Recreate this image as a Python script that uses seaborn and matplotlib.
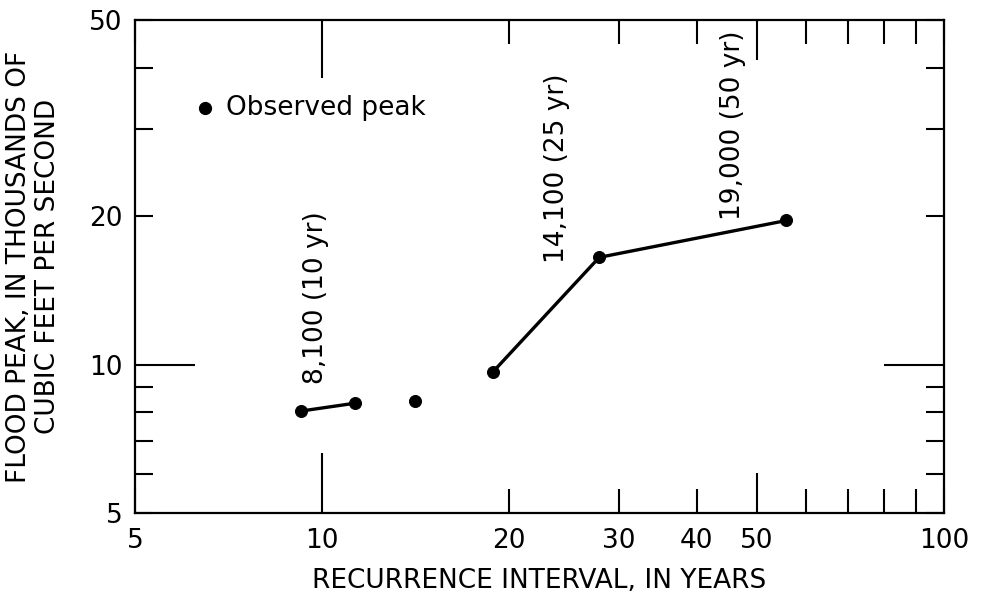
import numpy as np
import pandas as pd
import matplotlib
matplotlib.use('Agg')
import matplotlib.pyplot as plt
import seaborn as sns
from matplotlib.ticker import FixedLocator, NullFormatter

# Observed flood peaks
interval = [9.25, 11.3, 14.1, 18.8, 27.9, 55.8]
peak = [8.05, 8.35, 8.45, 9.65, 16.5, 19.6]
segment = [1, 1, 2, 3, 3, 3]

# Rotated annotations
note_text = ['8,100 (10 yr)', '14,100 (25 yr)', '19,000 (50 yr)']
note_x = [9.78, 23.9, 45.7]
note_y = [13.7, 25.0, 30.6]

# Axis ticks
x_ticks = [5, 10, 20, 30, 40, 50, 100]
x_tick_labels = ['5', '10', '20', '30', '40', '50', '100']
x_minor = [60, 70, 80, 90]
y_ticks = [5, 10, 20, 50]
y_tick_labels = ['5', '10', '20', '50']
y_minor = [6, 7, 8, 9, 30, 40]

sns.set_style('ticks')
plt.rcParams['font.family'] = ['DejaVu Sans']
plt.rcParams['text.color'] = 'black'
plt.rcParams['axes.labelcolor'] = 'black'
FS = 19

df = pd.DataFrame({'interval': interval, 'peak': peak, 'segment': segment})

fig = plt.figure(figsize=(9.83, 6.0), dpi=100)
ax = fig.add_axes([0.1373, 0.145, 0.823, 0.8217])

sns.lineplot(data=df, x='interval', y='peak', units='segment', estimator=None,
             color='black', lw=2.4, ax=ax, legend=False)
sns.scatterplot(data=df, x='interval', y='peak', color='black', s=75,
                edgecolor='black', ax=ax, zorder=3, legend=False)

ax.set_xscale('log')
ax.set_yscale('log')
ax.set_xlim(5, 100)
ax.set_ylim(5, 50)

ax.xaxis.set_major_locator(FixedLocator(x_ticks))
ax.xaxis.set_minor_locator(FixedLocator(x_minor))
ax.xaxis.set_minor_formatter(NullFormatter())
ax.set_xticklabels(x_tick_labels)
ax.yaxis.set_major_locator(FixedLocator(y_ticks))
ax.yaxis.set_minor_locator(FixedLocator(y_minor))
ax.yaxis.set_minor_formatter(NullFormatter())
ax.set_yticklabels(y_tick_labels)

ax.tick_params(axis='x', which='both', direction='in', top=True, bottom=True,
               length=17, width=1.5, labelsize=FS, pad=11, colors='black')
ax.tick_params(axis='y', which='both', direction='in', left=True, right=True,
               length=13, width=1.5, labelsize=FS, pad=9, colors='black')

# longer ticks at 10 and 50
for tick, loc in zip(ax.xaxis.get_major_ticks(), ax.xaxis.get_majorticklocs()):
    if loc == 10:
        tick.tick1line.set_markersize(43)
        tick.tick2line.set_markersize(42)
    elif loc == 50:
        tick.tick1line.set_markersize(29)
        tick.tick2line.set_markersize(29)
for tick, loc in zip(ax.yaxis.get_major_ticks(), ax.yaxis.get_majorticklocs()):
    if loc == 10:
        tick.tick1line.set_markersize(43)
        tick.tick2line.set_markersize(43)

for sp in ax.spines.values():
    sp.set_linewidth(1.6)
    sp.set_color('black')

ax.set_xlabel('RECURRENCE INTERVAL, IN YEARS', fontsize=FS, labelpad=10)
ax.set_ylabel('FLOOD PEAK, IN THOUSANDS OF\nCUBIC FEET PER SECOND', fontsize=FS,
              labelpad=20, linespacing=1.15)

for t, x, y in zip(note_text, note_x, note_y):
    ax.text(x, y, t, rotation=90, ha='center', va='center', fontsize=FS)

# legend
ax.plot([0.087], [0.821], 'o', color='black', ms=8.5, transform=ax.transAxes)
ax.text(0.113, 0.821, 'Observed peak', transform=ax.transAxes, ha='left',
        va='center', fontsize=FS)

fig.savefig('out.png', dpi=100, facecolor='white')
